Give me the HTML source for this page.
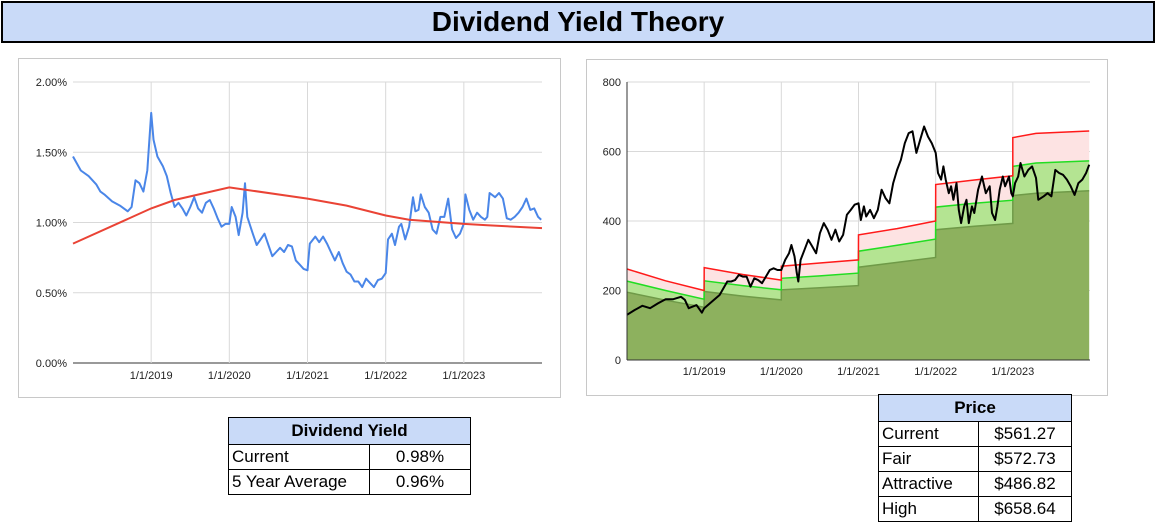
<!DOCTYPE html>
<html><head><meta charset="utf-8">
<style>
body{margin:0;width:1156px;height:522px;background:#fff;position:relative;overflow:hidden;font-family:"Liberation Sans",Arial,sans-serif;}
#title{position:absolute;left:1px;top:1px;width:1150px;height:38px;background:#c9daf8;border:2px solid #000;text-align:center;font-weight:bold;font-size:28px;line-height:38px;}
.box{position:absolute;border:1px solid #c8c8c8;background:#fff;}
svg text{font-family:"Liberation Sans",Arial,sans-serif;font-size:11px;fill:#222;}
table{position:absolute;border-collapse:collapse;font-size:17px;}
td{border:1px solid #000;padding:0 3px;height:24px;line-height:22px;}
th{background:#c9daf8;border:1px solid #000;font-weight:bold;height:24px;font-size:17px;}
td.v{text-align:center;}
</style></head><body>
<div id="title">Dividend Yield Theory</div>
<div class="box" style="left:18px;top:58px;width:541px;height:338px"></div>
<div class="box" style="left:586px;top:59px;width:520px;height:335px"></div>
<svg id="svg" width="1156" height="522" style="position:absolute;left:0;top:0"></svg>

<table style="left:228px;top:417px;width:243px">
<tr><th colspan="2">Dividend Yield</th></tr>
<tr><td style="width:134px">Current</td><td class="v">0.98%</td></tr>
<tr><td>5 Year Average</td><td class="v">0.96%</td></tr>
</table>
<table style="left:878px;top:394px;width:194px">
<tr><th colspan="2">Price</th></tr>
<tr><td style="width:93px">Current</td><td class="v">$561.27</td></tr>
<tr><td>Fair</td><td class="v">$572.73</td></tr>
<tr><td>Attractive</td><td class="v">$486.82</td></tr>
<tr><td>High</td><td class="v">$658.64</td></tr>
</table>

<script>
// ---- yield chart data ----
const yieldDates=[2018.0,2018.1,2018.2,2018.3,2018.35,2018.4,2018.5,2018.6,2018.7,2018.75,2018.8,2018.85,2018.9,2018.95,2019.0,2019.03,2019.08,2019.15,2019.2,2019.25,2019.3,2019.35,2019.4,2019.45,2019.5,2019.55,2019.6,2019.65,2019.7,2019.75,2019.8,2019.85,2019.9,2019.95,2020.0,2020.03,2020.08,2020.12,2020.17,2020.2,2020.23,2020.3,2020.35,2020.4,2020.45,2020.5,2020.55,2020.6,2020.65,2020.7,2020.75,2020.8,2020.85,2020.9,2020.95,2021.0,2021.03,2021.1,2021.15,2021.2,2021.25,2021.3,2021.35,2021.4,2021.45,2021.5,2021.55,2021.6,2021.65,2021.7,2021.75,2021.8,2021.85,2021.9,2021.95,2022.0,2022.03,2022.08,2022.12,2022.17,2022.2,2022.25,2022.3,2022.35,2022.38,2022.42,2022.45,2022.5,2022.55,2022.6,2022.65,2022.7,2022.75,2022.8,2022.85,2022.9,2022.95,2023.0,2023.02,2023.07,2023.12,2023.17,2023.22,2023.27,2023.3,2023.33,2023.4,2023.45,2023.5,2023.55,2023.6,2023.65,2023.7,2023.75,2023.8,2023.85,2023.9,2023.95,2023.99];
const yieldValues=[1.47,1.37,1.33,1.27,1.22,1.20,1.15,1.12,1.08,1.11,1.30,1.28,1.22,1.37,1.78,1.59,1.47,1.40,1.33,1.21,1.11,1.14,1.10,1.05,1.11,1.18,1.10,1.07,1.14,1.16,1.10,1.03,0.97,0.99,0.99,1.11,1.04,0.91,1.07,1.28,1.04,0.92,0.84,0.88,0.92,0.84,0.76,0.79,0.82,0.79,0.84,0.83,0.73,0.70,0.67,0.66,0.85,0.90,0.86,0.90,0.85,0.79,0.73,0.79,0.71,0.65,0.63,0.58,0.58,0.54,0.60,0.57,0.54,0.59,0.60,0.64,0.88,0.92,0.84,0.97,0.99,0.88,0.97,1.18,1.08,1.09,1.20,1.11,1.07,0.95,0.92,1.04,1.04,1.17,0.95,0.89,0.92,0.99,1.20,1.09,1.02,1.07,1.04,1.02,1.04,1.21,1.18,1.21,1.17,1.03,1.02,1.04,1.07,1.11,1.17,1.09,1.10,1.04,1.02];
const avgDates=[2018.0,2019.0,2019.3,2020.0,2021.0,2021.5,2022.0,2022.3,2023.0,2023.3,2024.0];
const avgValues=[0.85,1.10,1.16,1.25,1.17,1.12,1.05,1.02,0.99,0.98,0.96];
const yieldTicks=[0,0.5,1.0,1.5,2.0];
const yieldTickLabels=["0.00%","0.50%","1.00%","1.50%","2.00%"];
const yearTicks=[2019,2020,2021,2022,2023];
const yearTickLabels=["1/1/2019","1/1/2020","1/1/2021","1/1/2022","1/1/2023"];
// ---- price chart data ----
const priceDates=[2018.0,2018.1,2018.2,2018.3,2018.4,2018.5,2018.6,2018.7,2018.75,2018.8,2018.9,2018.97,2019.0,2019.1,2019.2,2019.3,2019.35,2019.4,2019.45,2019.5,2019.55,2019.6,2019.65,2019.7,2019.75,2019.8,2019.85,2019.9,2019.95,2020.0,2020.05,2020.1,2020.13,2020.17,2020.2,2020.22,2020.25,2020.3,2020.35,2020.4,2020.45,2020.5,2020.55,2020.6,2020.65,2020.7,2020.75,2020.8,2020.85,2020.9,2020.95,2021.0,2021.03,2021.07,2021.1,2021.15,2021.2,2021.25,2021.3,2021.35,2021.4,2021.45,2021.5,2021.55,2021.6,2021.65,2021.7,2021.75,2021.8,2021.85,2021.9,2021.95,2022.0,2022.03,2022.07,2022.1,2022.13,2022.17,2022.2,2022.23,2022.27,2022.3,2022.33,2022.37,2022.4,2022.43,2022.47,2022.5,2022.55,2022.6,2022.65,2022.7,2022.73,2022.77,2022.8,2022.83,2022.87,2022.9,2022.95,2022.98,2023.0,2023.03,2023.07,2023.1,2023.15,2023.2,2023.25,2023.3,2023.33,2023.4,2023.45,2023.5,2023.55,2023.6,2023.65,2023.7,2023.75,2023.8,2023.85,2023.9,2023.95,2023.99];
const priceValues=[130,144,156,149,163,175,175,182,173,149,158,136,149,168,187,226,226,230,245,240,240,211,235,230,221,240,259,264,259,259,288,307,331,298,250,226,288,317,346,327,307,365,394,375,346,375,341,360,418,432,447,451,403,442,413,432,408,432,490,466,451,509,547,576,624,653,658,596,634,672,643,624,596,538,519,557,519,480,500,461,509,432,394,442,461,394,442,423,490,528,480,500,423,403,442,490,528,500,528,480,471,509,528,567,528,547,557,524,461,471,480,471,547,538,533,519,500,475,509,519,538,562];
const bandDates=[2018.0,2018.5,2018.999,2019.0,2019.5,2019.999,2020.0,2020.5,2020.999,2021.0,2021.5,2021.999,2022.0,2022.5,2022.999,2023.0,2023.3,2023.99];
const highValues=[262,228,200,266,246,230,270,279,288,360,378,400,505,518,530,640,652,659];
const fairValues=[227,200,175,228,214,202,235,242,250,313,330,348,440,451,460,557,567,573];
const attractiveValues=[195,172,152,197,184,173,202,208,214,267,281,295,375,385,393,473,480,487];
const priceTicks=[0,200,400,600,800];
const priceTickLabels=["0","200","400","600","800"];

const NS="http://www.w3.org/2000/svg";
const svg=document.getElementById('svg');
function mk(tag,attrs,parent){const e=document.createElementNS(NS,tag);for(const k in attrs)e.setAttribute(k,attrs[k]);(parent||svg).appendChild(e);return e;}
function lin(d0,d1,r0,r1){return v=>r0+(v-d0)*(r1-r0)/(d1-d0);}
function pts(xs,ys,X,Y){return xs.map((d,i)=>X(d).toFixed(1)+','+Y(ys[i]).toFixed(1)).join(' ');}

// ===== Yield chart =====
const yX=lin(2018.0,2024.0,73,542), yY=lin(0,2,363,82);
const g1=mk('g',{});


yieldTicks.forEach((t,i)=>{
  const l=mk('line',{x1:73,x2:542,y1:yY(t),y2:yY(t),stroke:t===0?'#333':'#d9d9d9','stroke-width':1},g1);
  
  
  const tx=mk('text',{x:67,y:yY(t)+4,'text-anchor':'end'},g1);tx.textContent=yieldTickLabels[i];
  
  
});
yearTicks.forEach((t,i)=>{
  const l=mk('line',{x1:yX(t),x2:yX(t),y1:82,y2:363,stroke:'#d9d9d9'},g1);
  
  
  const tx=mk('text',{x:yX(t),y:379,'text-anchor':'middle'},g1);tx.textContent=yearTickLabels[i];
  
  
});
const yl=mk('polyline',{points:pts(yieldDates,yieldValues,yX,yY),fill:'none',stroke:'#4a86e8','stroke-width':2,'stroke-linejoin':'round'},g1);


const al=mk('polyline',{points:pts(avgDates,avgValues,yX,yY),fill:'none',stroke:'#ea4335','stroke-width':2},g1);



// ===== Price chart =====
const pX=lin(2018.0,2024.0,627,1090), pY=lin(0,800,360,82);
const g2=mk('g',{});


priceTicks.forEach((t,i)=>{
  const l=mk('line',{x1:627,x2:1090,y1:pY(t),y2:pY(t),stroke:'#d9d9d9'},g2);
  
  
  const tx=mk('text',{x:621,y:pY(t)+4,'text-anchor':'end'},g2);tx.textContent=priceTickLabels[i];
  
  
});
yearTicks.forEach((t,i)=>{
  const l=mk('line',{x1:pX(t),x2:pX(t),y1:82,y2:360,stroke:'#d9d9d9'},g2);
  
  
  const tx=mk('text',{x:pX(t),y:375,'text-anchor':'middle'},g2);tx.textContent=yearTickLabels[i];
  
  
});
function area(top,bot,fill,name){
  const fw=bandDates.map((d,i)=>pX(d).toFixed(1)+','+pY(top[i]).toFixed(1));
  const bw=bandDates.map((d,i)=>pX(d).toFixed(1)+','+pY(bot?bot[i]:0).toFixed(1)).reverse();
  const p=mk('polygon',{points:fw.concat(bw).join(' '),fill:fill},g2);
  
  
}
area(highValues,fairValues,'#fde3e3','high-band-area');
area(fairValues,attractiveValues,'#b4e492','fair-band-area');
area(attractiveValues,null,'#8db15e','attractive-band-area');
const la=mk('polyline',{points:pts(bandDates,attractiveValues,pX,pY),fill:'none',stroke:'#6f9a48','stroke-width':1.5},g2);


const lf=mk('polyline',{points:pts(bandDates,fairValues,pX,pY),fill:'none',stroke:'#22dd22','stroke-width':1.5},g2);


const lh=mk('polyline',{points:pts(bandDates,highValues,pX,pY),fill:'none',stroke:'#ff1a1a','stroke-width':1.5},g2);


const lp=mk('polyline',{points:pts(priceDates,priceValues,pX,pY),fill:'none',stroke:'#000','stroke-width':2,'stroke-linejoin':'round'},g2);


const ax1=mk('line',{x1:627,x2:627,y1:82,y2:360,stroke:'#333'},g2);


const ax2=mk('line',{x1:627,x2:1090,y1:360,y2:360,stroke:'#333'},g2);


</script>
</body></html>
